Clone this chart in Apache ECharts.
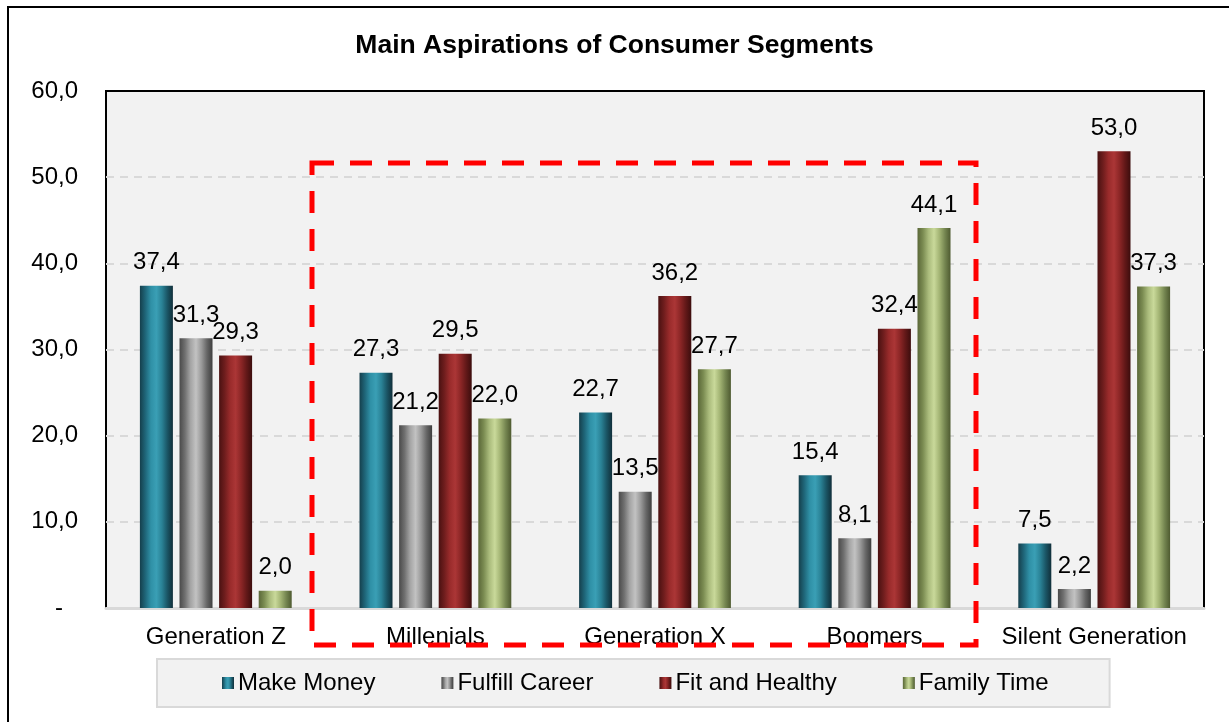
<!DOCTYPE html>
<html>
<head>
<meta charset="utf-8">
<script src="https://cdn.jsdelivr.net/npm/echarts@6/dist/echarts.min.js"></script>
<style>
html,body{margin:0;padding:0;background:#ffffff;}
#chart{width:1229px;height:722px;}
</style>
</head>
<body>
<div id="chart"></div>
<script>
var categories = ['Generation Z', 'Millenials', 'Generation X', 'Boomers', 'Silent Generation'];
var seriesNames = ['Make Money', 'Fulfill Career', 'Fit and Healthy', 'Family Time'];
var makeMoney = [37.4, 27.3, 22.7, 15.4, 7.5];
var fulfillCareer = [31.3, 21.2, 13.5, 8.1, 2.2];
var fitHealthy = [29.3, 29.5, 36.2, 32.4, 53.0];
var familyTime = [2.0, 22.0, 27.7, 44.1, 37.3];
var yTicks = {min: 0, max: 60, interval: 10};

var FONT = '"Liberation Sans", Arial, sans-serif';
var FS = 24;

function grad(stops) {
  return new echarts.graphic.LinearGradient(0, 0, 1, 0, stops.map(function (c, i) {
    return {offset: i / (stops.length - 1), color: c};
  }));
}
var colors = [
  grad(['#153f4c', '#1f6679', '#2f90a6', '#3a9fb5', '#2a8296', '#1a5565', '#112f3a']),
  grad(['#4a4a4a', '#707070', '#a4a4a4', '#c2c2c2', '#9a9a9a', '#666666', '#3e3e3e']),
  grad(['#4a1111', '#6e1d1d', '#992b2b', '#ab3636', '#8c2626', '#621818', '#3c0d0d']),
  grad(['#5a6738', '#7b8c52', '#aabb7c', '#c9d99a', '#a3b474', '#748550', '#4e5a30'])
];
var dataSets = [makeMoney, fulfillCareer, fitHealthy, familyTime];

function fmt(v) { return v.toFixed(1).replace('.', ','); }

var series = seriesNames.map(function (name, i) {
  return {
    name: name,
    type: 'bar',
    data: dataSets[i],
    barWidth: 33,
    barGap: '20%',
    itemStyle: {color: colors[i]},
    label: {
      show: true,
      position: 'top',
      distance: 11,
      color: '#000',
      fontFamily: FONT,
      fontSize: FS,
      formatter: function (p) { return fmt(p.value); }
    }
  };
});

var chart = echarts.init(document.getElementById('chart'), null, {renderer: 'canvas'});
chart.setOption({
  animation: false,
  backgroundColor: '#ffffff',
  title: {
    text: 'Main Aspirations of Consumer Segments',
    left: 'center',
    top: 32,
    padding: 0,
    textStyle: {fontFamily: FONT, fontSize: 26.5, fontWeight: 'bold', color: '#000'}
  },
  grid: {
    left: 106, right: 25, top: 91, bottom: 114,
    show: true,
    backgroundColor: '#f2f2f2',
    borderColor: '#000',
    borderWidth: 2
  },
  legend: {
    data: seriesNames,
    left: 157,
    top: 659,
    padding: [12, 61, 12, 65],
    backgroundColor: '#f2f2f2',
    borderColor: '#d9d9d9',
    borderWidth: 2,
    itemWidth: 12,
    itemHeight: 12,
    itemGap: 66,
    icon: 'rect',
    textStyle: {fontFamily: FONT, fontSize: FS, color: '#000', padding: [0, 0, 0, -1]}
  },
  xAxis: {
    type: 'category',
    data: categories,
    axisLine: {lineStyle: {color: '#d9d9d9', width: 3}},
    axisTick: {show: false},
    axisLabel: {color: '#000', fontFamily: FONT, fontSize: FS, margin: 17, interval: 0}
  },
  yAxis: {
    type: 'value',
    min: yTicks.min,
    max: yTicks.max,
    interval: yTicks.interval,
    axisLine: {show: false},
    axisTick: {show: false},
    splitLine: {showMaxLine: false, lineStyle: {color: '#d9d9d9', width: 2, type: [8, 6]}},
    axisLabel: {
      color: '#000', fontFamily: FONT, fontSize: FS, margin: 28,
      formatter: function (v) { return v === 0 ? '{d|-}' : fmt(v); },
      rich: {d: {fontFamily: FONT, fontSize: FS, color: '#000', padding: [0, 15, 0, 0]}}
    }
  },
  graphic: [
    {
      type: 'rect',
      z: -10,
      silent: true,
      shape: {x: 8, y: 7, width: 1260, height: 760},
      style: {fill: '#ffffff', stroke: '#000', lineWidth: 2}
    },
    {
      type: 'rect',
      z: 100,
      silent: true,
      shape: {x: 312, y: 163, width: 664, height: 482},
      style: {fill: 'none', stroke: '#ff0000', lineWidth: 5, lineDash: [22, 16]}
    }
  ],
  series: series
});
</script>
</body>
</html>
